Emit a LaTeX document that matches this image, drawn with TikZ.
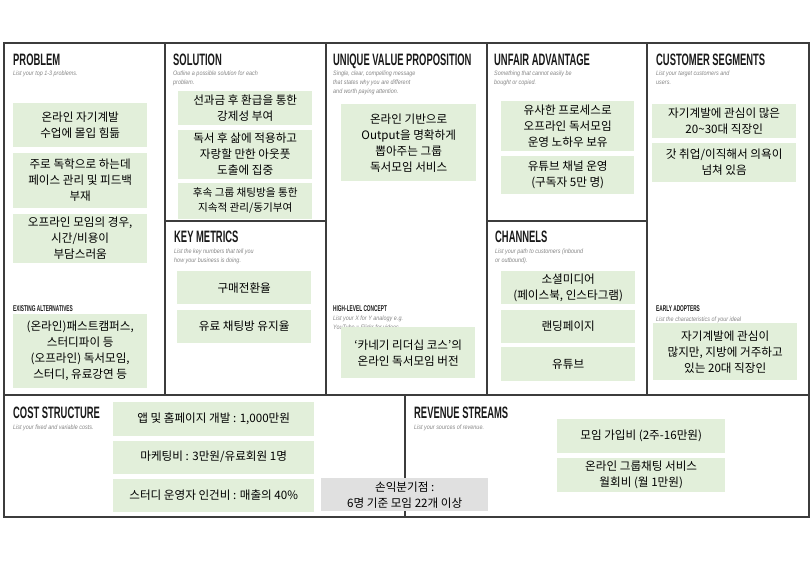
\documentclass[tikz,border=0pt]{standalone}
\usepackage{fontspec}
\setmainfont{Noto Sans CJK KR}
\newfontfamily\headfont[FakeStretch=0.57]{Liberation Sans}
\newfontfamily\hintfont[FakeStretch=0.85]{Liberation Sans}
\usetikzlibrary{positioning}
\definecolor{notegreen}{HTML}{E2EFDA}
\definecolor{notegray}{HTML}{E0E0E0}
\definecolor{framegray}{HTML}{3C3C3C}

\begin{document}
\begin{tikzpicture}[x=1pt, y=-1pt,
    frame/.style={draw=framegray, line width=1.7pt},
    head/.style={font=\headfont\bfseries\fontsize{16.5}{18}\selectfont,
                 text=black!90, inner sep=0pt, anchor=base west},
    subhead/.style={font=\headfont\bfseries\fontsize{8.4}{9}\selectfont,
                    text=black!90, inner sep=0pt, anchor=base west},
    hint/.style={font=\hintfont\itshape\fontsize{6.4}{8.7}\selectfont,
                 text=black!48, inner sep=0pt, anchor=north west, align=left},
    note/.style={fill=notegreen, inner sep=0pt, align=center,
                 font=\fontsize{11.6}{16}\selectfont},
    first/.style={anchor=north west},
]
\useasboundingbox (0,0) rectangle (812,562);

% canvas frame
\draw[frame] (4,43) rectangle (809,517);
\draw[frame] (165,43) -- (165,395);
\draw[frame] (326,43) -- (326,395);
\draw[frame] (487,43) -- (487,395);
\draw[frame] (647,43) -- (647,395);
\draw[frame] (4,395) -- (809,395);
\draw[frame] (165,221) -- (326,221);
\draw[frame] (487,221) -- (647,221);
\draw[frame] (405,395) -- (405,517);

% Problem
\node[head] (hprob) at (13,65) {PROBLEM};
\node[hint] (tprob) at (13,71) {List your top 1-3 problems.};
\node[note, first, minimum width=134pt, minimum height=44pt] (p1) at (13,103)
     {온라인 자기계발\\수업에 몰입 힘듦};
\node[note, minimum width=134pt, minimum height=55pt, below=5pt of p1] (p2)
     {주로 독학으로 하는데\\페이스 관리 및 피드백\\부재};
\node[note, minimum width=134pt, minimum height=49pt, below=6pt of p2] (p3)
     {오프라인 모임의 경우,\\시간/비용이\\부담스러움};
\node[subhead] (halt) at (13,311) {EXISTING ALTERNATIVES};
\node[note, first, minimum width=134pt, minimum height=74pt] (alt) at (13,314)
     {(온라인)패스트캠퍼스,\\스터디파이 등\\(오프라인) 독서모임,\\스터디, 유료강연 등};

% Solution
\node[head] (hsol) at (173,65) {SOLUTION};
\node[hint] (tsol) at (173,71) {Outline a possible solution for each\\problem.};
\node[note, first, minimum width=134pt, minimum height=34pt] (s1) at (178,91)
     {선과금 후 환급을 통한\\강제성 부여};
\node[note, minimum width=134pt, minimum height=49pt, below=4pt of s1] (s2)
     {독서 후 삶에 적용하고\\자랑할 만한 아웃풋\\도출에 집중};
\node[note, minimum width=134pt, minimum height=36pt, below=4pt of s2,
      font=\fontsize{10.6}{15}\selectfont] (s3)
     {후속 그룹 채팅방을 통한\\지속적 관리/동기부여};

% Key metrics
\node[head] (hkey) at (174,242) {KEY METRICS};
\node[hint] (tkey) at (174,249) {List the key numbers that tell you\\how your business is doing.};
\node[note, first, minimum width=134pt, minimum height=33pt] (k1) at (177,271)
     {구매전환율};
\node[note, minimum width=134pt, minimum height=33pt, below=5pt of k1] (k2)
     {유료 채팅방 유지율};

% Unique value proposition
\node[head] (huvp) at (333,65) {UNIQUE VALUE PROPOSITION};
\node[hint] (tuvp) at (333,71) {Single, clear, compelling message\\that states why you are different\\and worth paying attention.};
\node[note, first, minimum width=135pt, minimum height=77pt] (u1) at (341,104)
     {온라인 기반으로\\Output을 명확하게\\뽑아주는 그룹\\독서모임 서비스};
\node[subhead] (hhlc) at (333,311) {HIGH-LEVEL CONCEPT};
\node[hint] (thlc) at (333,316) {List your X for Y analogy e.g.\\YouTube = Flickr for videos.};
\node[note, first, minimum width=134pt, minimum height=51pt] (hlc) at (341,327)
     {‘카네기 리더십 코스’의\\온라인 독서모임 버전};

% Unfair advantage
\node[head] (hunf) at (494,65) {UNFAIR ADVANTAGE};
\node[hint] (tunf) at (494,71) {Something that cannot easily be\\bought or copied.};
\node[note, first, minimum width=133pt, minimum height=50pt] (a1) at (501,101)
     {유사한 프로세스로\\오프라인 독서모임\\운영 노하우 보유};
\node[note, minimum width=133pt, minimum height=38pt, below=4pt of a1] (a2)
     {유튜브 채널 운영\\(구독자 5만 명)};

% Channels
\node[head] (hchn) at (495,242) {CHANNELS};
\node[hint] (tchn) at (495,249) {List your path to customers (inbound\\or outbound).};
\node[note, first, minimum width=134pt, minimum height=33pt] (c1) at (501,271)
     {소셜미디어\\(페이스북, 인스타그램)};
\node[note, minimum width=134pt, minimum height=33pt, below=5pt of c1] (c2)
     {랜딩페이지};
\node[note, minimum width=134pt, minimum height=34pt, below=4pt of c2] (c3)
     {유튜브};

% Customer segments
\node[head] (hcus) at (656,65) {CUSTOMER SEGMENTS};
\node[hint] (tcus) at (656,71) {List your target customers and\\users.};
\node[note, first, minimum width=144pt, minimum height=34pt] (cs1) at (652,104)
     {자기계발에 관심이 많은\\20\textasciitilde30대 직장인};
\node[note, minimum width=144pt, minimum height=39pt, below=4pt of cs1] (cs2)
     {갓 취업/이직해서 의욕이\\넘쳐 있음};
\node[subhead] (hear) at (656,311) {EARLY ADOPTERS};
\node[hint] (tear) at (656,317) {List the characteristics of your ideal\\customers.};
\node[note, first, minimum width=144pt, minimum height=57pt] (ear) at (653,323)
     {자기계발에 관심이\\많지만, 지방에 거주하고\\있는 20대 직장인};

% Cost structure
\node[head] (hcost) at (13,418) {COST STRUCTURE};
\node[hint] (tcost) at (13,425) {List your fixed and variable costs.};
\node[note, first, minimum width=201pt, minimum height=34pt] (co1) at (113,402)
     {앱 및 홈페이지 개발 : 1,000만원};
\node[note, minimum width=201pt, minimum height=33pt, below=4pt of co1] (co2)
     {마케팅비 : 3만원/유료회원 1명};
\node[note, minimum width=201pt, minimum height=33pt, below=5pt of co2] (co3)
     {스터디 운영자 인건비 : 매출의 40\%};
\node[note, first, fill=notegray, minimum width=167pt, minimum height=33pt] (bep) at (321,478)
     {손익분기점 :\\6명 기준 모임 22개 이상};

% Revenue streams
\node[head] (hrev) at (414,418) {REVENUE STREAMS};
\node[hint] (trev) at (414,425) {List your sources of revenue.};
\node[note, first, minimum width=168pt, minimum height=34pt] (r1) at (557,419)
     {모임 가입비 (2주-16만원)};
\node[note, minimum width=168pt, minimum height=34pt, below=4pt of r1] (r2)
     {온라인 그룹채팅 서비스\\월회비 (월 1만원)};

\end{tikzpicture}
\end{document}
